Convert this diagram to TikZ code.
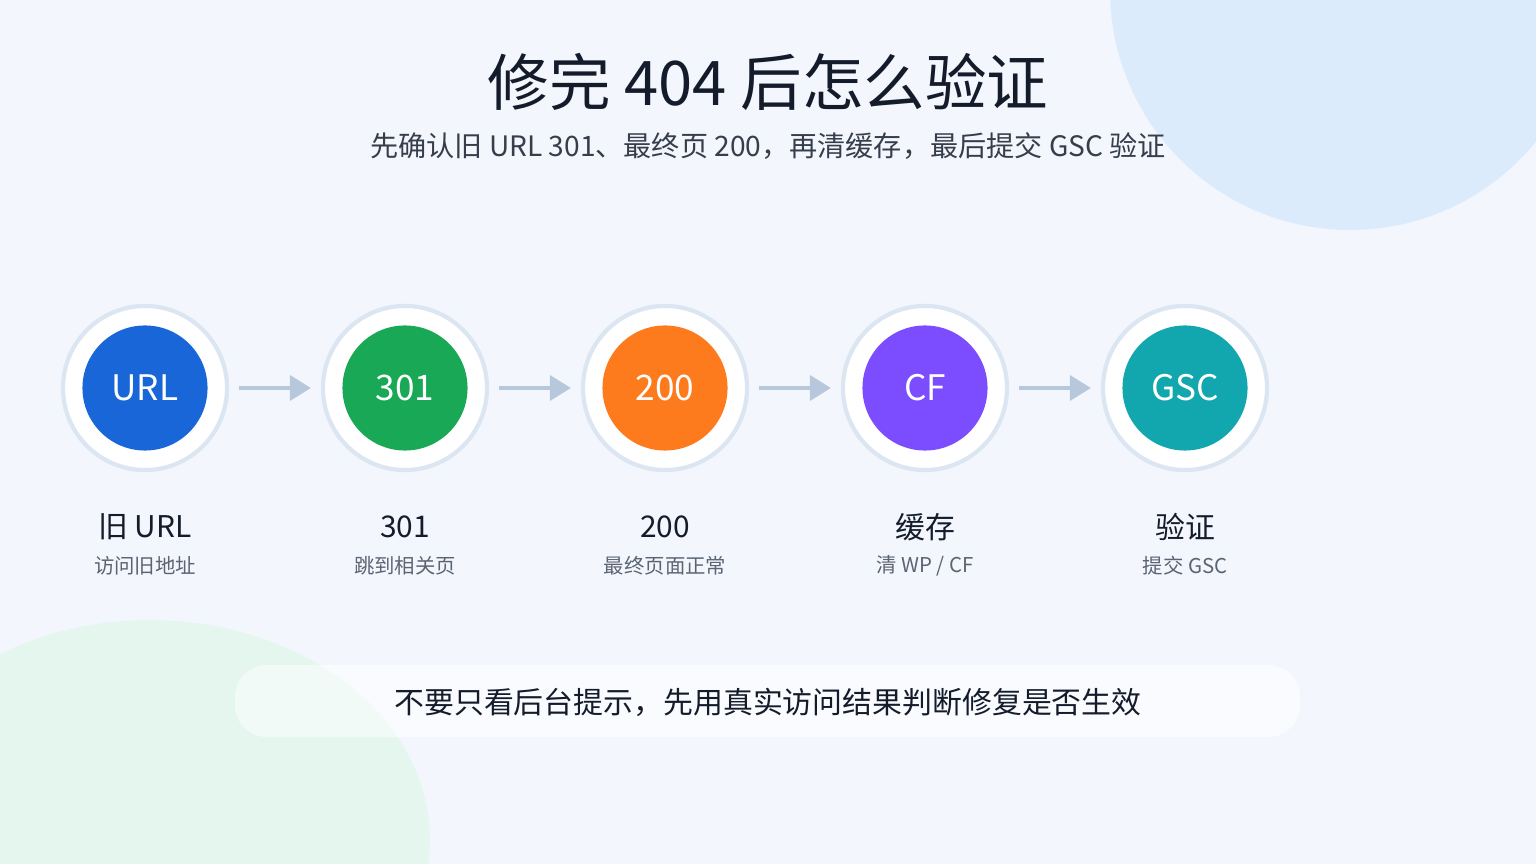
\documentclass[tikz,border=0pt]{standalone}
\usepackage{fontspec}
\setmainfont{Noto Sans CJK SC}
\usepackage{tikz}
\usetikzlibrary{positioning,arrows.meta}
\definecolor{bgA}{HTML}{F3F7FD}
\definecolor{blobBlue}{HTML}{DCEBFC}
\definecolor{blobGreen}{HTML}{E5F6EF}
\definecolor{ringLine}{HTML}{DCE6F2}
\definecolor{arrowGray}{HTML}{B8C8DC}
\definecolor{inkDark}{HTML}{141C2B}
\definecolor{inkGray}{HTML}{5B6473}
\definecolor{cURL}{HTML}{1966D8}
\definecolor{cThree}{HTML}{19A855}
\definecolor{cTwo}{HTML}{FD7B1D}
\definecolor{cCF}{HTML}{7B4DFF}
\definecolor{cGSC}{HTML}{12A6AE}
\tikzset{
  ring/.style={circle, draw=ringLine, line width=1.2pt, fill=white, minimum size=1.64cm, inner sep=0pt},
  core/.style={circle, fill=#1, minimum size=1.25cm, inner sep=0pt, text=white, font=\fontsize{10}{12}\selectfont},
  stepname/.style={font=\fontsize{8.5}{10}\selectfont, text=inkDark},
  stepnote/.style={font=\fontsize{5.8}{7}\selectfont, text=inkGray},
  flow/.style={arrowGray, line width=1.4pt, -{Triangle[length=6pt,width=7pt]}}
}
\begin{document}
\begin{tikzpicture}[x=0.01cm,y=-0.01cm]
\useasboundingbox (0,0) rectangle (1536,864);
\clip (0,0) rectangle (1536,864);
% background
\fill[bgA] (0,0) rectangle (1536,864);
\fill[blobBlue] (1350,-10) circle (240);
\fill[blobGreen] (150,840) ellipse (280 and 220);

% title
\node[font=\fontsize{17.5}{20}\selectfont, text=inkDark] (title) at (768,82) {修完 404 后怎么验证};
\node[font=\fontsize{8}{9}\selectfont, text=inkDark!85] (subtitle) at (768,146) {先确认旧 URL 301、最终页 200，再清缓存，最后提交 GSC 验证};

% steps
\foreach \i/\x/\col/\txt/\lab/\desc in {
  1/145/cURL/URL/旧 URL/访问旧地址,
  2/405/cThree/301/301/跳到相关页,
  3/665/cTwo/200/200/最终页面正常,
  4/925/cCF/CF/缓存/{清 WP / CF},
  5/1185/cGSC/GSC/验证/提交 GSC}{
  \node[ring] (r\i) at (\x,388) {};
  \node[core=\col] (c\i) at (\x,388) {\txt};
  \node[stepname] (l\i) at (\x,527) {\lab};
  \node[stepnote] (n\i) at (\x,566) {\desc};
}
\foreach \a/\b in {1/2,2/3,3/4,4/5}
  \draw[flow] ([xshift=2.8pt]r\a.east) -- ([xshift=-2.8pt]r\b.west);

% bottom note
\fill[white, opacity=0.5, rounded corners=9pt] (235,665) rectangle (1300,737);
\node[font=\fontsize{8.5}{10}\selectfont, text=inkDark] (tip) at (768,702) {不要只看后台提示，先用真实访问结果判断修复是否生效};
\end{tikzpicture}
\end{document}
